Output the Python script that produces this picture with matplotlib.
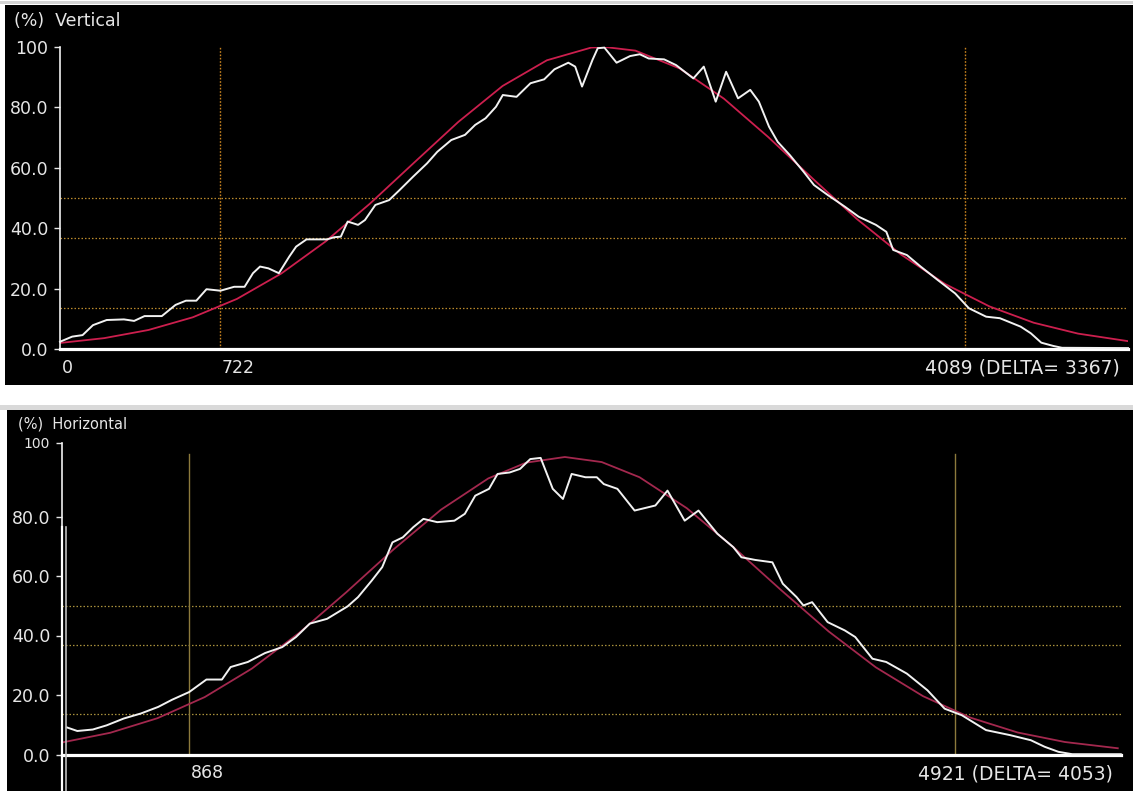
import matplotlib
matplotlib.use("Agg")
import matplotlib.pyplot as plt
from matplotlib.lines import Line2D
from matplotlib.patches import Rectangle

W, H = 1133, 791

# ---- Vertical profile (top) ----
v_x = [0, 55, 102, 149, 211, 289, 335, 382, 460, 522, 569, 616, 662, 725, 787, 834,
       872, 904, 942, 989, 1036, 1067, 1114, 1207, 1238, 1269, 1300, 1347, 1378, 1425,
       1487, 1534, 1596, 1659, 1705, 1768, 1830, 1876, 1923, 1970, 2001, 2063, 2126,
       2188, 2234, 2297, 2328, 2359, 2406, 2430, 2460, 2515, 2576, 2620, 2660, 2730,
       2784, 2862, 2909, 2963, 3010, 3064, 3119, 3158, 3204, 3243, 3298, 3360, 3407,
       3469, 3547, 3609, 3687, 3734, 3765, 3827, 3889, 3967, 4045, 4107, 4185, 4247,
       4341, 4387, 4434, 4489, 4528, 4826]
v_y = [2.4, 4.1, 4.6, 7.9, 9.6, 9.8, 9.3, 10.9, 10.9, 14.6, 16.0, 16.0, 19.8, 19.3, 20.6, 20.6,
       25.1, 27.3, 26.7, 25.1, 30.6, 33.9, 36.3, 36.3, 37.0, 37.2, 42.2, 41.1, 42.7, 47.7,
       49.3, 52.6, 57.1, 61.5, 65.3, 69.2, 70.9, 74.2, 76.4, 80.2, 84.1, 83.5, 88.0,
       89.3, 92.6, 94.8, 93.5, 86.9, 95.7, 99.6, 99.8, 94.8, 97.0, 97.6, 96.2, 95.9,
       94.0, 89.6, 93.5, 81.9, 91.8, 83.0, 85.8, 81.9, 73.6, 68.6, 64.2, 58.7, 54.3,
       51.0, 47.1, 43.8, 41.1, 38.8, 32.8, 31.1, 27.3, 22.8, 18.4, 13.5, 10.7, 10.2,
       7.4, 5.2, 2.1, 1.0, 0.4, 0.3]
v_fit_x = [0, 200, 400, 600, 800, 1000, 1200, 1400, 1600, 1800, 2000, 2200, 2400, 2462,
           2600, 2800, 3000, 3200, 3400, 3600, 3800, 4000, 4200, 4400, 4600, 4826]
v_fit_y = [2.0, 3.6, 6.3, 10.5, 16.6, 25.0, 35.6, 48.1, 61.7, 75.2, 87.1, 95.6, 99.8, 100.0,
           98.8, 92.9, 82.9, 70.2, 56.5, 43.1, 31.3, 21.5, 14.1, 8.7, 5.1, 2.6]
v_marks = [722, 4089]
v_delta = 3367

# ---- Horizontal profile (bottom) ----
h_x = [221, 276, 358, 431, 522, 613, 704, 777, 868, 959, 1041, 1087, 1178, 1269, 1360,
       1433, 1506, 1597, 1706, 1761, 1834, 1889, 1943, 1998, 2053, 2107, 2180, 2271,
       2326, 2381, 2454, 2499, 2563, 2618, 2672, 2727, 2791, 2845, 2891, 2964, 3024,
       3061, 3133, 3224, 3334, 3398, 3489, 3562, 3662, 3746, 3789, 3862, 3953, 4008,
       4081, 4117, 4163, 4245, 4336, 4391, 4482, 4555, 4664, 4773, 4864, 4955, 5083,
       5211, 5320, 5393, 5466, 5539, 5796]
h_y = [9.1, 7.9, 8.4, 9.8, 12.1, 13.8, 16.0, 18.4, 21.0, 25.2, 25.2, 29.4, 31.1, 34.1, 36.1,
       39.5, 44.0, 45.6, 49.8, 52.9, 58.5, 63.0, 71.3, 73.0, 76.4, 79.2, 78.1, 78.6,
       80.9, 87.0, 89.3, 94.3, 94.8, 96.0, 99.3, 99.7, 89.3, 85.9, 94.3, 93.2, 93.2,
       90.9, 89.3, 82.0, 83.7, 88.7, 78.6, 82.0, 74.2, 69.7, 66.3, 65.4, 64.6, 57.4,
       52.9, 50.1, 51.2, 44.5, 41.7, 39.5, 32.2, 31.1, 27.2, 21.6, 15.4, 13.2, 8.2,
       6.5, 4.8, 2.6, 0.9, 0.1, 0.1]
h_fit_x = [200, 450, 700, 950, 1200, 1450, 1700, 1950, 2200, 2450, 2650, 2855, 3050,
           3250, 3500, 3750, 4000, 4250, 4500, 4750, 5000, 5250, 5500, 5780]
h_fit_y = [4.1, 7.3, 12.2, 19.3, 28.9, 40.9, 54.6, 69.0, 82.3, 92.8, 98.1, 100.0, 98.3,
           93.2, 82.8, 69.5, 55.2, 41.4, 29.3, 19.6, 12.4, 7.4, 4.2, 2.1]
h_marks = [868, 4921]
h_delta = 4053

levels = [50.0, 36.8, 13.5]
yt = [0, 20, 40, 60, 80]
yt_labels = ["0.0", "20.0", "40.0", "60.0", "80.0"]

txt = "#e6e6e6"
plt.rcParams["font.family"] = ["DejaVu Sans"]


def rect(x0, y0, x1, y1):
    return [x0 / W, 1 - y1 / H, (x1 - x0) / W, (y1 - y0) / H]


fig = plt.figure(figsize=(W / 100, H / 100), dpi=100, facecolor="white")

# black panels and a bit of window chrome, drawn in a background axes
bg = fig.add_axes([0, 0, 1, 1], zorder=-5)
bg.set_xlim(0, W)
bg.set_ylim(H, 0)
bg.axis("off")
bg.add_patch(Rectangle((5, 5), 1128, 380, facecolor="black"))
bg.add_patch(Rectangle((7, 410), 1126, 381, facecolor="black"))
bg.add_patch(Rectangle((0, 1), W, 3, facecolor="#d4d4d4"))
bg.add_patch(Rectangle((0, 405), W, 5, facecolor="#d9d9d9"))

fig.lines.append(Line2D([62 / W, 62 / W], [0, 1 - 527 / H], transform=fig.transFigure,
                        color="white", lw=1.6, zorder=5))
fig.lines.append(Line2D([66 / W, 66 / W], [0, 1 - 527 / H], transform=fig.transFigure,
                        color="#bdbdbd", lw=1.2, zorder=5))


def style(ax, xlim, ylim, fit_col, lvl_col, data_x, data_y, fit_x, fit_y, marks, mark_ls, mark_col, mark_top):
    ax.set_facecolor("black")
    ax.set_xlim(*xlim)
    ax.set_ylim(*ylim)
    for s in ["top", "right"]:
        ax.spines[s].set_visible(False)
    ax.spines["left"].set_color("#f0f0f0")
    ax.spines["left"].set_linewidth(1.2)
    ax.spines["bottom"].set_color("white")
    ax.spines["bottom"].set_linewidth(2.3)
    ax.set_xticks([])
    ax.tick_params(axis="y", colors=txt, length=4.5, width=1, pad=4, labelsize=12.5)
    for lv in levels:
        ax.axhline(lv, color=lvl_col, lw=0.9, ls=(0, (1.2, 1.6)), zorder=1)
    for m in marks:
        ax.plot([m, m], [0, mark_top], color=mark_col, lw=1.0, ls=mark_ls, zorder=1)
    ax.plot(fit_x, fit_y, color=fit_col, lw=1.3, zorder=2)
    ax.plot(data_x, data_y, color="#f2f2f2", lw=1.4, zorder=3, clip_on=False)


# top panel
ax1 = fig.add_axes(rect(60, 47, 1128, 349), zorder=1)
style(ax1, (0, 4826), (0, 100), "#cc1f4e", "#bb8a2c", v_x, v_y, v_fit_x, v_fit_y,
      v_marks, (0, (1.2, 1.2)), "#c8821e", 100)
ax1.set_yticks(yt + [100])
ax1.set_yticklabels(yt_labels + ["100"])
for xv, lab in [(0, "0"), (v_marks[0], str(v_marks[0]))]:
    ax1.annotate(lab, xy=(xv, 0), xycoords=("data", "axes fraction"), xytext=(1, -7),
                 textcoords="offset points", ha="left", va="top", color=txt, fontsize=12.5)
ax1.annotate(f"{v_marks[1]} (DELTA= {v_delta})", xy=(1, 0), xycoords="axes fraction",
             xytext=(-6, -7), textcoords="offset points", ha="right", va="top",
             color=txt, fontsize=13.5)
fig.text(14 / W, 1 - 21 / H, "(%)  Vertical", color=txt, fontsize=12.5, va="center", ha="left")

# bottom panel
ytop = 100 * (754.5 - 443) / (754.5 - 457)
ax2 = fig.add_axes(rect(62, 443, 1121, 754.5), zorder=1)
style(ax2, (195, 5797), (0, ytop), "#a3284e", "#a8903c", h_x, h_y, h_fit_x, h_fit_y,
      h_marks, "-", "#8c7a3c", 101)
ax2.set_yticks(yt + [ytop])
ax2.set_yticklabels(yt_labels + ["100"])
ax2.get_yticklabels()[-1].set_fontsize(10)
ax2.annotate(str(h_marks[0]), xy=(h_marks[0], 0), xycoords=("data", "axes fraction"),
             xytext=(1, -7), textcoords="offset points", ha="left", va="top",
             color=txt, fontsize=12.5)
ax2.annotate(f"{h_marks[1]} (DELTA= {h_delta})", xy=(1, 0), xycoords="axes fraction",
             xytext=(-6, -7), textcoords="offset points", ha="right", va="top",
             color=txt, fontsize=13.5)
fig.text(18 / W, 1 - 424 / H, "(%)  Horizontal", color=txt, fontsize=10.5, va="center", ha="left")

fig.savefig("out.png", dpi=100, facecolor="white")
